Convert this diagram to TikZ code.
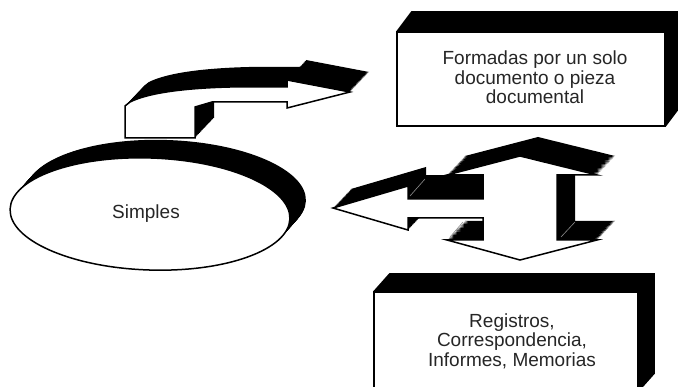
\documentclass[tikz,border=0pt]{standalone}
\usepackage{fontspec}
\setmainfont{Liberation Sans}
\usetikzlibrary{shapes.geometric}

% Outlines of the front faces of the two block arrows (pixel-like units, y downwards)
\newcommand\bentarrowpath{(125,138) -- (125,106) -- (130,102)
  .. controls (150,92) and (190,88) .. (230,87) -- (287,87) -- (287,80)
  -- (350,92) -- (287,108) -- (287,102) -- (212,102) -- (195,107)
  -- (195,138) -- cycle}
\newcommand\crossarrowpath{(333,208) -- (408,186) -- (408,199) -- (483,199)
  -- (483,175) -- (447,175) -- (520,156) -- (597,175) -- (557,175)
  -- (557,240) -- (597,240) -- (520,260) -- (447,240) -- (483,240)
  -- (483,218) -- (408,218) -- (408,230) -- cycle}

\begin{document}
\begin{tikzpicture}[x=1pt,y=-1pt,
  face/.style={draw=black, fill=white, line width=1.5pt, line join=miter},
  depth/.style={fill=black},
  edgeline/.style={draw=black!45, line width=0.6pt},
  labeltext/.style={font=\fontsize{19}{19.5}\selectfont, text=black!85,
    align=center, inner sep=0pt}]
\clip (0,0) rectangle (678,387);
\fill[white] (0,0) rectangle (678,387);

% --- ellipse with its extruded rim
\foreach \k in {1,...,24}
  \fill[depth] (150+\k*16/24, 214-\k*18/24) ellipse [x radius=140, y radius=56, rotate=-2];
\node[face, ellipse, minimum width=280pt, minimum height=112pt, inner sep=0pt, rotate=-2]
  (simples) at (150,214) {};
\node[labeltext] (simplestext) at (146,214) {Simples};

% --- upper box
\node[face, rectangle, minimum width=268pt, minimum height=94pt, inner sep=0pt]
  (formadas) at (531,79) {};
\fill[depth] (formadas.north west) -- ++(15,-20)
  -- ([shift={(15,-20)}]formadas.north east)
  -- ([shift={(15,-20)}]formadas.south east)
  -- (formadas.south east) -- (formadas.north east) -- cycle;
\node[labeltext] (formadastext) at (535,77.5)
  {Formadas por un solo\\documento o pieza\\documental};

% --- lower box
\node[face, rectangle, minimum width=264pt, minimum height=99pt, inner sep=0pt]
  (registros) at (506,341.5) {};
\fill[depth] (registros.north west) -- ++(16,-18)
  -- ([shift={(16,-18)}]registros.north east)
  -- ([shift={(16,-18)}]registros.south east)
  -- (registros.south east) -- (registros.north east) -- cycle;
\node[labeltext] (registrostext) at (512,341)
  {Registros,\\Correspondencia,\\Informes, Memorias};

% --- bent arrow
\foreach \k in {1,...,24}
  \fill[depth, shift={(\k*19/24,-\k*20/24)}] \bentarrowpath;
\draw[face] \bentarrowpath;

% --- vertical double arrow with its left branch
\foreach \k in {1,...,24}
  \fill[depth, shift={(\k*18/24,-\k*19/24)}] \crossarrowpath;
\fill[depth] (426,175) rectangle (483,182);
\draw[face] \crossarrowpath;
\draw[edgeline] (410,196) -- (425,179);
\draw[edgeline] (450,237) -- (463,222);
\draw[edgeline] (561,237) -- (575,222);

\end{tikzpicture}
\end{document}
